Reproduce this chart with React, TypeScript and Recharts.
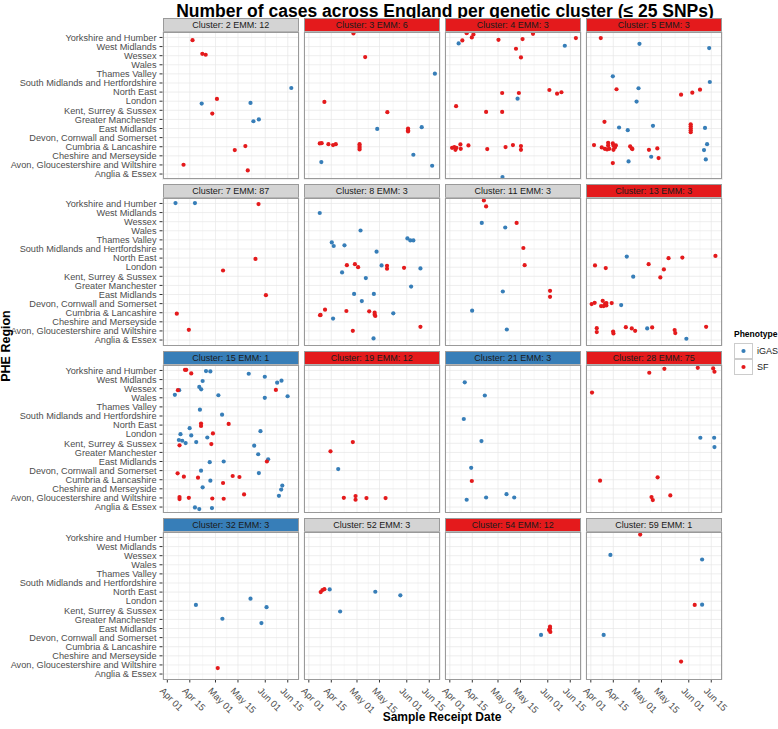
import React from "react";
import { ScatterChart, Scatter, XAxis, YAxis, CartesianGrid } from "recharts";

document.body.style.margin = "0";

const FONT = '"Liberation Sans", Arial, Helvetica, sans-serif';
const BLUE = "#377EB8";
const RED = "#E41A1C";

// regions bottom (0) to top (15)
const regions = [
  "Anglia & Essex",
  "Avon, Gloucestershire and Wiltshire",
  "Cheshire and Merseyside",
  "Cumbria & Lancashire",
  "Devon, Cornwall and Somerset",
  "East Midlands",
  "Greater Manchester",
  "Kent, Surrey & Sussex",
  "London",
  "North East",
  "South Midlands and Hertfordshire",
  "Thames Valley",
  "Wales",
  "Wessex",
  "West Midlands",
  "Yorkshire and Humber",
];
const regionTicks = regions.map((_, i) => i);

// days since Apr 01
const dateTicks = [0, 14, 30, 44, 61, 75];
const dateLabels = ["Apr 01", "Apr 15", "May 01", "May 15", "Jun 01", "Jun 15"];
const minorDays = [7, 22, 37, 52.5, 68];

const clusterIds = [2, 3, 4, 5, 7, 8, 11, 13, 15, 19, 21, 28, 32, 52, 54, 59];
const emmTypes = [12, 6, 3, 3, 87, 3, 3, 3, 1, 12, 3, 75, 3, 3, 12, 1];
const stripKind = ["g", "r", "r", "r", "g", "g", "g", "r", "b", "r", "b", "r", "b", "g", "r", "g"];

type P = [number, number, "I" | "S"];

// [day, region position (jittered), phenotype]
const c2: P[] = [
  [15.7, 14.7, "S"], [21.8, 13.2, "S"], [23.9, 13.1, "S"], [77.2, 9.45, "I"], [30.9, 8.25, "S"],
  [21.4, 7.74, "I"], [51.8, 7.81, "I"], [28, 6.64, "S"], [53.6, 5.8, "I"], [57, 6.0, "I"],
  [42, 2.63, "S"], [48.6, 3.07, "S"], [10.1, 1.02, "S"], [50.1, 0.4, "S"],
];
const c3: P[] = [
  [27.8, 15.44, "S"], [35.1, 12.85, "S"], [78.5, 11.02, "I"], [9.7, 7.92, "S"], [48.9, 6.79, "S"],
  [42.6, 4.96, "I"], [61.8, 5.0, "S"], [61.8, 4.82, "S"], [61.8, 4.67, "S"], [70.3, 5.15, "I"],
  [6.8, 3.36, "S"], [8.0, 3.39, "S"], [12.2, 3.28, "S"], [15.1, 3.18, "S"], [16.8, 3.28, "S"],
  [31.6, 3.28, "S"], [31.6, 3.07, "S"], [31.6, 2.88, "S"], [31.6, 2.7, "S"], [65.1, 2.12, "I"],
  [7.8, 1.31, "I"], [76.8, 0.91, "I"],
];
const c4: P[] = [
  [10.5, 15.47, "S"], [14.7, 15.33, "S"], [13.7, 15.0, "S"], [7.8, 14.67, "S"], [5.5, 14.34, "I"],
  [30.3, 14.74, "S"], [45.3, 14.82, "S"], [51.8, 15.4, "S"], [78.5, 14.93, "S"], [71.6, 14.09, "I"],
  [41.2, 13.76, "S"], [44.3, 12.81, "S"], [32.6, 8.9, "S"], [43, 8.9, "S"], [42.2, 8.28, "I"],
  [62, 9.23, "S"], [66.8, 8.83, "S"], [69.5, 8.98, "S"], [3.9, 7.45, "S"], [22.6, 6.82, "S"],
  [32.6, 6.82, "S"], [1.4, 2.88, "S"], [2.8, 2.96, "S"], [3.5, 2.66, "S"], [4.1, 2.88, "S"],
  [6.8, 2.77, "S"], [6.6, 3.25, "S"], [11.6, 3.14, "S"], [23.3, 2.74, "S"], [34.7, 2.96, "S"],
  [39.3, 3.18, "S"], [44.3, 3.07, "S"], [44.3, 2.66, "S"], [32.8, -0.33, "I"],
];
const c5: P[] = [
  [6.2, 14.93, "S"], [30.3, 14.3, "I"], [73.7, 13.83, "I"], [13.7, 10.73, "I"], [74.1, 10.11, "I"],
  [16, 9.31, "S"], [29.7, 9.42, "I"], [28.5, 7.96, "I"], [56.2, 8.72, "S"], [63.2, 8.94, "S"],
  [68, 9.27, "S"], [8.5, 5.73, "S"], [17.6, 5.11, "I"], [23, 4.82, "I"], [38.7, 5.29, "I"],
  [62.2, 5.47, "S"], [62.2, 5.26, "S"], [62.2, 5.04, "S"], [62.2, 4.82, "S"], [62.2, 4.6, "S"],
  [71.1, 5.07, "I"], [2.0, 3.18, "S"], [6.8, 2.92, "S"], [8.7, 2.77, "S"], [10.1, 2.7, "S"],
  [10.8, 3.43, "S"], [11.5, 2.77, "S"], [10.8, 3.14, "S"], [13.7, 3.36, "S"], [15.0, 2.92, "S"],
  [14.1, 2.66, "S"], [15.6, 3.14, "S"], [14.1, 3.1, "S"], [24.5, 3.03, "S"], [25.5, 2.81, "S"],
  [25.9, 2.74, "S"], [36.2, 2.66, "S"], [41.4, 2.81, "S"], [42.2, 1.75, "S"], [37.6, 1.9, "I"],
  [23.5, 1.39, "I"], [13.7, 1.2, "S"], [72.4, 3.28, "I"], [70.5, 2.63, "I"], [71.6, 1.61, "I"],
];
const c7: P[] = [
  [5.1, 15.04, "I"], [17.2, 15.04, "I"], [56.8, 14.93, "S"], [54.9, 8.91, "S"], [34.7, 7.64, "S"],
  [61.4, 4.93, "S"], [5.9, 2.9, "S"], [13.4, 1.12, "S"],
];
const c8: P[] = [
  [6.8, 13.95, "I"], [32.2, 12.03, "I"], [14.3, 10.72, "I"], [15.5, 10.33, "I"], [22.2, 10.4, "I"],
  [61.4, 11.16, "I"], [63.2, 10.94, "I"], [65.1, 10.94, "I"], [42.2, 9.71, "I"], [23.7, 8.22, "S"],
  [28.7, 8.33, "S"], [30.7, 8.0, "S"], [45.3, 8.19, "I"], [48.7, 8.15, "S"], [48.7, 7.83, "S"],
  [59.3, 7.93, "S"], [69.5, 7.86, "I"], [20.7, 7.43, "I"], [35.5, 6.81, "I"], [63.7, 5.87, "I"],
  [28.2, 5.07, "I"], [40.5, 5.07, "I"], [33.0, 4.28, "I"], [10.1, 3.33, "S"], [7.0, 2.72, "S"],
  [7.3, 2.76, "S"], [23.4, 3.19, "S"], [37.6, 3.15, "S"], [41, 3.0, "S"], [41, 2.79, "S"],
  [41.4, 2.64, "S"], [52.6, 2.93, "I"], [15.1, 2.36, "I"], [69.5, 1.45, "S"], [27.4, 1.01, "S"],
  [40.3, 0.18, "I"],
];
const c11: P[] = [
  [21.2, 15.33, "S"], [22.6, 14.67, "S"], [19.9, 12.86, "I"], [34.5, 12.36, "I"], [41.6, 12.86, "S"],
  [45.8, 10.11, "S"], [46.6, 8.22, "S"], [33.0, 5.33, "I"], [62.4, 5.4, "S"], [62.4, 4.75, "S"],
  [13.9, 3.22, "I"], [35.5, 1.16, "I"],
];
const c13: P[] = [
  [22.4, 9.17, "I"], [48.4, 8.99, "S"], [57, 9.06, "S"], [77.6, 9.24, "S"], [2.6, 8.19, "S"],
  [9.3, 7.9, "S"], [36, 8.33, "S"], [45.5, 7.75, "S"], [26.4, 6.96, "I"], [43.3, 6.88, "S"],
  [0.5, 3.95, "S"], [2.4, 4.09, "S"], [7.4, 4.31, "S"], [6.4, 3.73, "S"], [8.0, 3.73, "S"],
  [8.9, 3.99, "S"], [9.7, 3.8, "S"], [9.7, 4.06, "S"], [13.0, 4.06, "S"], [18.9, 3.84, "I"],
  [3.7, 1.3, "S"], [3.7, 0.87, "S"], [13.9, 0.94, "S"], [14.1, 0.72, "S"], [21.8, 1.41, "S"],
  [25.5, 1.27, "S"], [27.6, 1.01, "S"], [35.1, 1.27, "I"], [38.2, 1.38, "S"], [52.2, 1.09, "S"],
  [52.6, 0.76, "S"], [71.8, 1.45, "S"], [59.5, 0.14, "I"],
];
const c15: P[] = [
  [11, 15.07, "S"], [11.8, 15.07, "S"], [14.9, 14.67, "S"], [24.1, 14.93, "I"], [26.8, 14.89, "I"],
  [50.7, 14.64, "I"], [60.7, 14.31, "I"], [22, 13.84, "I"], [68.4, 13.66, "I"], [71.1, 13.88, "I"],
  [19.9, 13.19, "I"], [21.1, 12.93, "I"], [6.6, 12.83, "S"], [7.4, 12.83, "I"], [67.6, 12.86, "S"],
  [4.7, 12.32, "I"], [31.8, 12.28, "I"], [60.7, 11.99, "I"], [74.9, 12.17, "I"], [20.3, 10.69, "I"],
  [34.1, 10.14, "I"], [21, 9.17, "S"], [21, 8.91, "S"], [38.2, 9.13, "S"], [13.9, 8.66, "I"],
  [8.2, 8.0, "I"], [14.9, 7.86, "I"], [28.4, 8.08, "S"], [24.9, 7.64, "I"], [58, 8.33, "I"],
  [7.2, 7.36, "I"], [9.3, 7.28, "I"], [11.4, 7.03, "I"], [18, 7.14, "I"], [7.6, 6.78, "S"],
  [27.4, 6.92, "S"], [54.1, 6.74, "I"], [56.6, 5.8, "I"], [62, 5.0, "S"], [62.8, 5.25, "I"],
  [26.4, 4.93, "I"], [35.1, 5.0, "I"], [21, 3.99, "I"], [57, 3.73, "I"], [6.4, 3.7, "S"],
  [10.3, 3.33, "S"], [19.1, 3.22, "S"], [40.7, 3.41, "S"], [44.9, 3.3, "S"], [34.7, 2.64, "S"],
  [26.8, 2.9, "I"], [22, 2.17, "I"], [71.6, 2.36, "I"], [70.9, 1.92, "I"], [69.5, 1.23, "I"],
  [47.8, 1.38, "S"], [7.6, 1.09, "S"], [7.6, 0.87, "S"], [13.4, 1.01, "S"], [28, 0.94, "S"],
  [35.1, 0.91, "S"], [17.2, -0.04, "I"], [19.9, -0.22, "I"], [27.8, -0.11, "I"],
];
const c19: P[] = [
  [27.4, 7.14, "S"], [13.5, 6.12, "S"], [18.3, 4.17, "I"], [21.8, 1.01, "S"], [29.1, 1.2, "S"],
  [29.1, 0.8, "S"], [35.9, 0.98, "S"], [47.8, 0.98, "S"],
];
const c21: P[] = [
  [9.3, 13.7, "I"], [21.8, 12.25, "I"], [8.7, 9.67, "I"], [19.7, 7.25, "I"], [13.3, 4.31, "I"],
  [13.7, 2.86, "S"], [10.5, 0.8, "I"], [22.6, 1.05, "I"], [35.3, 1.41, "I"], [40.1, 1.05, "I"],
];
const c28: P[] = [
  [36.4, 14.75, "S"], [45.8, 15.18, "S"], [66.6, 15.29, "S"], [76.2, 15.22, "S"], [77, 14.86, "S"],
  [0.75, 12.57, "S"], [68.2, 7.61, "I"], [76.8, 7.61, "I"], [77, 6.59, "I"], [5.75, 2.9, "S"],
  [41.6, 3.26, "S"], [37.8, 1.09, "S"], [38.6, 0.76, "S"], [49.5, 1.27, "S"],
];
const c32: P[] = [
  [17.8, 7.59, "I"], [51.8, 8.28, "I"], [61.8, 7.34, "I"], [34.3, 6.07, "I"], [58.6, 5.6, "I"],
  [31.4, 0.65, "S"],
];
const c52: P[] = [
  [7.4, 9.0, "S"], [8.5, 9.22, "S"], [9.7, 9.32, "S"], [13, 9.29, "I"], [41.4, 9.04, "I"],
  [57, 8.64, "I"], [19.5, 6.87, "I"],
];
const c54: P[] = [
  [56.8, 4.3, "I"], [62.4, 5.2, "S"], [62.4, 4.99, "S"], [61.8, 4.84, "S"], [62.6, 4.63, "S"],
];
const c59: P[] = [
  [30.75, 15.32, "S"], [12.2, 13.08, "I"], [69.3, 12.58, "I"], [64.7, 7.59, "S"], [69.3, 7.62, "I"],
  [8, 4.3, "I"], [56.2, 1.37, "S"],
];

const clusterData = [c2, c3, c4, c5, c7, c8, c11, c13, c15, c19, c21, c28, c32, c52, c54, c59];

// layout
const PLOT_W = 136.5;
const PLOT_H = 147.5;
const COL_X = [162.5, 303.5, 444.5, 585.5];
const STRIP_Y = [17.5, 184.4, 351.3, 518.2];
const STRIP_H = 14;
const Y_AXIS_W = 162.5;
const X_AXIS_H = 49;
const STRIP_BG: Record<string, string> = { g: "#D4D4D4", r: RED, b: BLUE };

const DateTick = ({ x, y, payload }: any) => {
  const i = dateTicks.indexOf(payload.value);
  const tx = x - 3;
  const ty = y + 2;
  return (
    <text
      x={tx}
      y={ty}
      transform={`rotate(45 ${tx} ${ty})`}
      textAnchor="start"
      dominantBaseline="hanging"
      fontSize={9.5}
      fontFamily={FONT}
      fill="#4D4D4D"
    >
      {dateLabels[i]}
    </text>
  );
};

const RegionTick = ({ x, y, payload }: any) => (
  <text
    x={x}
    y={y}
    dy={3.3}
    textAnchor="end"
    fontSize={9.2}
    fontFamily={FONT}
    fill="#4D4D4D"
  >
    {regions[payload.value]}
  </text>
);

const dot = (color: string) => (p: any) =>
  <circle cx={p.cx} cy={p.cy} r={2.1} fill={color} />;

function Panel({ idx }: { idx: number }) {
  const row = Math.floor(idx / 4);
  const col = idx % 4;
  const withY = col === 0;
  const withX = row === 3;
  const plotTop = STRIP_Y[row] + STRIP_H;
  const pts = clusterData[idx];
  const igas = pts.filter((p) => p[2] === "I").map((p) => ({ d: p[0], r: p[1] }));
  const sf = pts.filter((p) => p[2] === "S").map((p) => ({ d: p[0], r: p[1] }));

  const minorGen = ({ xAxis, offset }: any) =>
    minorDays.map((m) =>
      xAxis && typeof xAxis.scale === "function"
        ? xAxis.scale(m)
        : offset.left + ((m + 3) / 85) * offset.width
    );

  return (
    <>
      <div
        style={{
          position: "absolute",
          left: COL_X[col],
          top: STRIP_Y[row],
          width: PLOT_W,
          height: STRIP_H,
          boxSizing: "border-box",
          border: "1px solid #9A9A9A",
          background: STRIP_BG[stripKind[idx]],
          color: "#1A1A1A",
          fontFamily: FONT,
          fontSize: 9,
          lineHeight: "12px",
          textAlign: "center",
        }}
      >
        {`Cluster: ${clusterIds[idx]} EMM: ${emmTypes[idx]}`}
      </div>
      <div style={{ position: "absolute", left: withY ? 0 : COL_X[col], top: plotTop }}>
        <ScatterChart
          width={PLOT_W + (withY ? Y_AXIS_W : 0)}
          height={PLOT_H + (withX ? X_AXIS_H : 0)}
          margin={{ top: 0, right: 0, bottom: 0, left: 0 }}
          style={{ overflow: "visible" }}
        >
          <CartesianGrid
            horizontal={false}
            stroke="#F3F3F3"
            strokeWidth={0.7}
            verticalCoordinatesGenerator={minorGen}
          />
          <CartesianGrid stroke="#E6E6E6" strokeWidth={0.7} />
          <XAxis
            type="number"
            dataKey="d"
            domain={[-3, 82]}
            ticks={dateTicks}
            interval={0}
            allowDataOverflow
            hide={!withX}
            height={X_AXIS_H}
            axisLine={false}
            tickSize={3}
            tickLine={{ stroke: "#333333" }}
            tick={<DateTick />}
          />
          <YAxis
            type="number"
            dataKey="r"
            domain={[-0.6, 15.6]}
            ticks={regionTicks}
            interval={0}
            allowDataOverflow
            hide={!withY}
            width={Y_AXIS_W}
            axisLine={false}
            tickSize={3}
            tickMargin={3}
            tickLine={{ stroke: "#333333" }}
            tick={<RegionTick />}
          />
          <Scatter name="iGAS" data={igas} fill={BLUE} shape={dot(BLUE)} isAnimationActive={false} />
          <Scatter name="SF" data={sf} fill={RED} shape={dot(RED)} isAnimationActive={false} />
        </ScatterChart>
      </div>
      <div
        style={{
          position: "absolute",
          left: COL_X[col],
          top: plotTop,
          width: PLOT_W,
          height: PLOT_H,
          boxSizing: "border-box",
          border: "1px solid #9A9A9A",
          pointerEvents: "none",
        }}
      />
    </>
  );
}

const LegendKey = ({ color, label, top }: { color: string; label: string; top: number }) => (
  <>
    <div
      style={{
        position: "absolute",
        left: 734,
        top,
        width: 19,
        height: 16,
        boxSizing: "border-box",
        border: "1px solid #CCCCCC",
        background: "#fff",
      }}
    >
      <svg width={17} height={14} style={{ display: "block" }}>
        <circle cx={8.5} cy={7} r={2.1} fill={color} />
      </svg>
    </div>
    <div
      style={{
        position: "absolute",
        left: 757,
        top: top + 2,
        fontFamily: FONT,
        fontSize: 9,
        color: "#1A1A1A",
        lineHeight: "12px",
      }}
    >
      {label}
    </div>
  </>
);

export default function App() {
  return (
    <div style={{ position: "relative", width: 778, height: 729, background: "#fff", overflow: "hidden" }}>
      <style>{`.recharts-surface { overflow: visible; }`}</style>
      <div
        style={{
          position: "absolute",
          left: 445,
          top: 1,
          transform: "translateX(-50%)",
          whiteSpace: "nowrap",
          fontFamily: FONT,
          fontWeight: "bold",
          fontSize: 17.5,
          lineHeight: "20px",
          color: "#000",
        }}
      >
        Number of cases across England per genetic cluster (≤ 25 SNPs)
      </div>
      {clusterIds.map((_, i) => (
        <Panel key={i} idx={i} />
      ))}
      <div
        style={{
          position: "absolute",
          left: 442,
          top: 710,
          transform: "translateX(-50%)",
          whiteSpace: "nowrap",
          fontFamily: FONT,
          fontWeight: "bold",
          fontSize: 12,
          lineHeight: "15px",
          color: "#000",
        }}
      >
        Sample Receipt Date
      </div>
      <div
        style={{
          position: "absolute",
          left: 6,
          top: 346,
          transform: "translate(-50%, -50%) rotate(-90deg)",
          whiteSpace: "nowrap",
          fontFamily: FONT,
          fontWeight: "bold",
          fontSize: 12.5,
          lineHeight: "15px",
          color: "#000",
        }}
      >
        PHE Region
      </div>
      <div
        style={{
          position: "absolute",
          left: 734,
          top: 328,
          fontFamily: FONT,
          fontWeight: "bold",
          fontSize: 8.5,
          lineHeight: "12px",
          color: "#000",
        }}
      >
        Phenotype
      </div>
      <LegendKey color={BLUE} label="iGAS" top={343} />
      <LegendKey color={RED} label="SF" top={359} />
    </div>
  );
}
